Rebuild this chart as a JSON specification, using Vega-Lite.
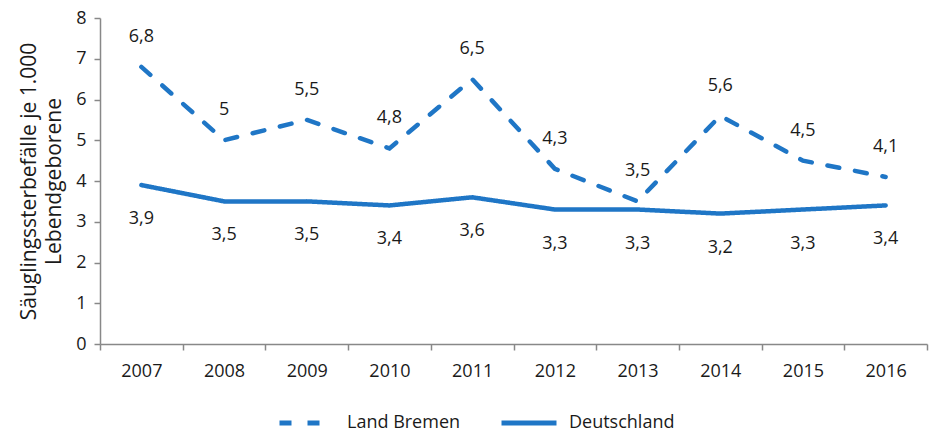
{
  "$schema": "https://vega.github.io/schema/vega-lite/v6.json",
  "width": 827,
  "height": 326,
  "autosize": {"type": "none"},
  "padding": {"left": 100, "top": 18, "right": 2, "bottom": 90},
  "background": "white",
  "config": {
    "font": "Open Sans",
    "view": {"stroke": null},
    "locale": {"number": {"decimal": ",", "thousands": ".", "grouping": [3], "currency": ["", " €"]}},
    "axis": {"grid": false, "domainColor": "#888888", "tickColor": "#888888", "labelColor": "#1a1a1a", "labelFontSize": 18, "titleColor": "#1a1a1a", "titleFontWeight": "normal", "tickSize": 6, "domainWidth": 1.5, "tickWidth": 1.5}
  },
  "data": {
    "values": [
      {"Jahr": "2007", "Region": "Land Bremen", "Wert": 6.8},
      {"Jahr": "2008", "Region": "Land Bremen", "Wert": 5.0},
      {"Jahr": "2009", "Region": "Land Bremen", "Wert": 5.5},
      {"Jahr": "2010", "Region": "Land Bremen", "Wert": 4.8},
      {"Jahr": "2011", "Region": "Land Bremen", "Wert": 6.5},
      {"Jahr": "2012", "Region": "Land Bremen", "Wert": 4.3},
      {"Jahr": "2013", "Region": "Land Bremen", "Wert": 3.5},
      {"Jahr": "2014", "Region": "Land Bremen", "Wert": 5.6},
      {"Jahr": "2015", "Region": "Land Bremen", "Wert": 4.5},
      {"Jahr": "2016", "Region": "Land Bremen", "Wert": 4.1},
      {"Jahr": "2007", "Region": "Deutschland", "Wert": 3.9},
      {"Jahr": "2008", "Region": "Deutschland", "Wert": 3.5},
      {"Jahr": "2009", "Region": "Deutschland", "Wert": 3.5},
      {"Jahr": "2010", "Region": "Deutschland", "Wert": 3.4},
      {"Jahr": "2011", "Region": "Deutschland", "Wert": 3.6},
      {"Jahr": "2012", "Region": "Deutschland", "Wert": 3.3},
      {"Jahr": "2013", "Region": "Deutschland", "Wert": 3.3},
      {"Jahr": "2014", "Region": "Deutschland", "Wert": 3.2},
      {"Jahr": "2015", "Region": "Deutschland", "Wert": 3.3},
      {"Jahr": "2016", "Region": "Deutschland", "Wert": 3.4}
    ]
  },
  "encoding": {
    "x": {"field": "Jahr", "type": "ordinal", "scale": {"type": "band", "paddingInner": 0, "paddingOuter": 0},
      "axis": {"title": null, "labelAngle": 0, "tickBand": "extent", "labelPadding": 12, "labelBaseline": "top"}},
    "y": {"field": "Wert", "type": "quantitative", "scale": {"domain": [0, 8], "nice": false},
      "axis": {"title": ["Säuglingssterbefälle je 1.000", "Lebendgeborene"], "titleFontSize": 21, "tickCount": 8, "labelPadding": 8, "titlePadding": 11, "titleLineHeight": 25}}
  },
  "layer": [
    {
      "mark": {"type": "line", "strokeWidth": 4.5, "color": "#1f76c6", "strokeCap": "round"},
      "encoding": {
        "strokeDash": {"field": "Region", "type": "nominal",
          "scale": {"domain": ["Land Bremen", "Deutschland"], "range": [[12, 16], [1, 0]]},
          "legend": {"title": null, "orient": "none", "direction": "horizontal", "legendX": 177, "legendY": 375, "padding": 0, "symbolType": "stroke", "symbolSize": 3025, "symbolStrokeWidth": 5, "symbolStrokeColor": "#1f76c6", "labelFontSize": 18, "labelColor": "#1a1a1a", "columnPadding": 30, "labelOffset": 10}}
      }
    },
    {
      "transform": [{"filter": "datum.Region === 'Land Bremen'"}],
      "mark": {"type": "text", "fontSize": 18, "color": "#1a1a1a", "dy": -30},
      "encoding": {"text": {"field": "Wert", "type": "quantitative", "format": ".2~r"}}
    },
    {
      "transform": [{"filter": "datum.Region === 'Deutschland'"}],
      "mark": {"type": "text", "fontSize": 18, "color": "#1a1a1a", "dy": 34},
      "encoding": {"text": {"field": "Wert", "type": "quantitative", "format": ".2~r"}}
    }
  ]
}
